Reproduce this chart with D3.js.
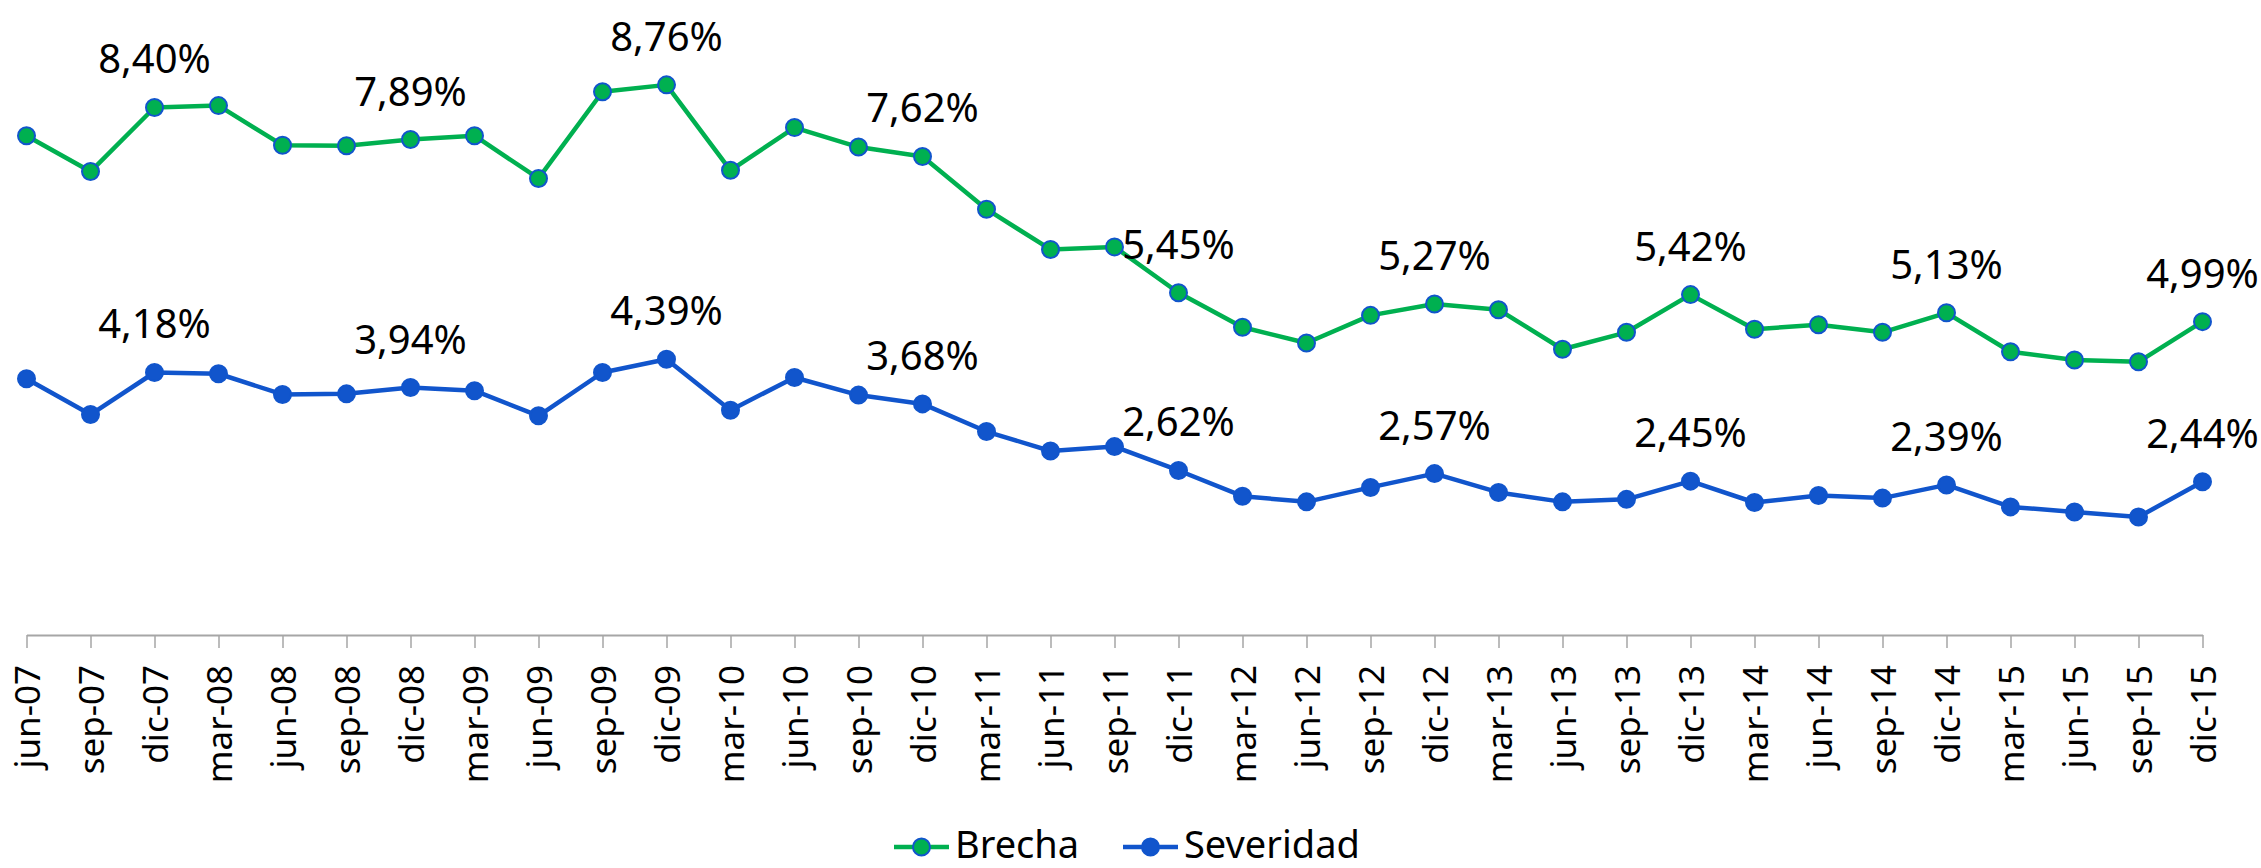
<!DOCTYPE html>
<html>
<head>
<meta charset="utf-8">
<script src="https://cdn.jsdelivr.net/npm/d3@7"></script>
<style>
  html, body { margin: 0; padding: 0; background: #fff; }
  #chart { width: 2261px; height: 868px; }
  text { font-family: "Noto Sans", "Open Sans", sans-serif; }
</style>
</head>
<body>
<div id="chart"></div>
<script>
const categories = [
  "jun-07", "sep-07", "dic-07",
  "mar-08", "jun-08", "sep-08", "dic-08",
  "mar-09", "jun-09", "sep-09", "dic-09",
  "mar-10", "jun-10", "sep-10", "dic-10",
  "mar-11", "jun-11", "sep-11", "dic-11",
  "mar-12", "jun-12", "sep-12", "dic-12",
  "mar-13", "jun-13", "sep-13", "dic-13",
  "mar-14", "jun-14", "sep-14", "dic-14",
  "mar-15", "jun-15", "sep-15", "dic-15"
];

const brecha = [
  7.95, 7.38, 8.40, 8.43, 7.80, 7.79, 7.89, 7.95, 7.27, 8.65, 8.76,
  7.40, 8.08, 7.77, 7.62, 6.78, 6.14, 6.18, 5.45, 4.90, 4.65, 5.09,
  5.27, 5.18, 4.55, 4.82, 5.42, 4.87, 4.94, 4.82, 5.13, 4.51, 4.38,
  4.35, 4.99
];

const severidad = [
  4.08, 3.51, 4.18, 4.16, 3.83, 3.84, 3.94, 3.89, 3.49, 4.18, 4.39,
  3.58, 4.10, 3.82, 3.68, 3.24, 2.93, 3.00, 2.62, 2.21, 2.12, 2.35,
  2.57, 2.27, 2.12, 2.16, 2.45, 2.11, 2.22, 2.18, 2.39, 2.04, 1.96,
  1.88, 2.44
];

const seriesNames = ["Brecha", "Severidad"];

const green = "#00b050";
const blue = "#1155cc";

const width = 2261;
const height = 868;

const svg = d3
  .select("#chart")
  .append("svg")
  .attr("width", width)
  .attr("height", height)
  .attr("viewBox", [0, 0, width, height]);

const x = d3.scalePoint().domain(categories).range([26.5, 2202.5]);
const y = d3.scaleLinear().domain([0, 10]).range([635, 7]);

// x axis with rotated month labels
const xAxis = svg
  .append("g")
  .attr("transform", `translate(0,${y(0)})`)
  .call(d3.axisBottom(x).tickSize(13).tickSizeOuter(0));

xAxis.select(".domain").attr("stroke", "#a6a6a6").attr("stroke-width", 2);
xAxis.selectAll(".tick line").attr("stroke", "#a6a6a6").attr("stroke-width", 1.5);
xAxis
  .selectAll(".tick text")
  .attr("transform", "rotate(-90)")
  .attr("text-anchor", "end")
  .attr("x", -30)
  .attr("y", 0)
  .attr("dy", "0.36em")
  .attr("fill", "#000")
  .style("font-size", "35px");

const series = [
  { name: seriesNames[0], values: brecha, color: green, fill: green, stroke: blue },
  { name: seriesNames[1], values: severidad, color: blue, fill: blue, stroke: blue }
];

const line = d3
  .line()
  .x((d, i) => x(categories[i]))
  .y((d) => y(d));

series.forEach((s) => {
  svg
    .append("path")
    .datum(s.values)
    .attr("fill", "none")
    .attr("stroke", s.color)
    .attr("stroke-width", 4.5)
    .attr("stroke-linejoin", "round")
    .attr("d", line);

  svg
    .append("g")
    .selectAll("circle")
    .data(s.values)
    .enter()
    .append("circle")
    .attr("cx", (d, i) => x(categories[i]))
    .attr("cy", (d) => y(d))
    .attr("r", 8.5)
    .attr("fill", s.fill)
    .attr("stroke", s.stroke)
    .attr("stroke-width", 2);
});

// data labels on the "dic" points only
const fmt = (v) => d3.format(".2f")(v).replace(".", ",") + "%";

series.forEach((s) => {
  const labelled = s.values
    .map((v, i) => ({ v, c: categories[i] }))
    .filter((d) => d.c.startsWith("dic"));

  svg
    .append("g")
    .selectAll("text")
    .data(labelled)
    .enter()
    .append("text")
    .attr("x", (d) => x(d.c))
    .attr("y", (d) => y(d.v) - 34)
    .attr("text-anchor", "middle")
    .attr("fill", "#000")
    .style("font-size", "40px")
    .text((d) => fmt(d.v));
});

// legend
const legendItems = [
  { name: seriesNames[0], x: 894, color: green, fill: green, stroke: blue },
  { name: seriesNames[1], x: 1123, color: blue, fill: blue, stroke: blue }
];

const legend = svg
  .append("g")
  .selectAll("g")
  .data(legendItems)
  .enter()
  .append("g")
  .attr("transform", (d) => `translate(${d.x},847)`);

legend
  .append("line")
  .attr("x1", 0)
  .attr("x2", 55)
  .attr("stroke", (d) => d.color)
  .attr("stroke-width", 4.5);

legend
  .append("circle")
  .attr("cx", 27.5)
  .attr("r", 8.5)
  .attr("fill", (d) => d.fill)
  .attr("stroke", (d) => d.stroke)
  .attr("stroke-width", 2);

legend
  .append("text")
  .attr("x", 61)
  .attr("y", 11)
  .attr("fill", "#000")
  .style("font-size", "38px")
  .text((d) => d.name);
</script>
</body>
</html>
